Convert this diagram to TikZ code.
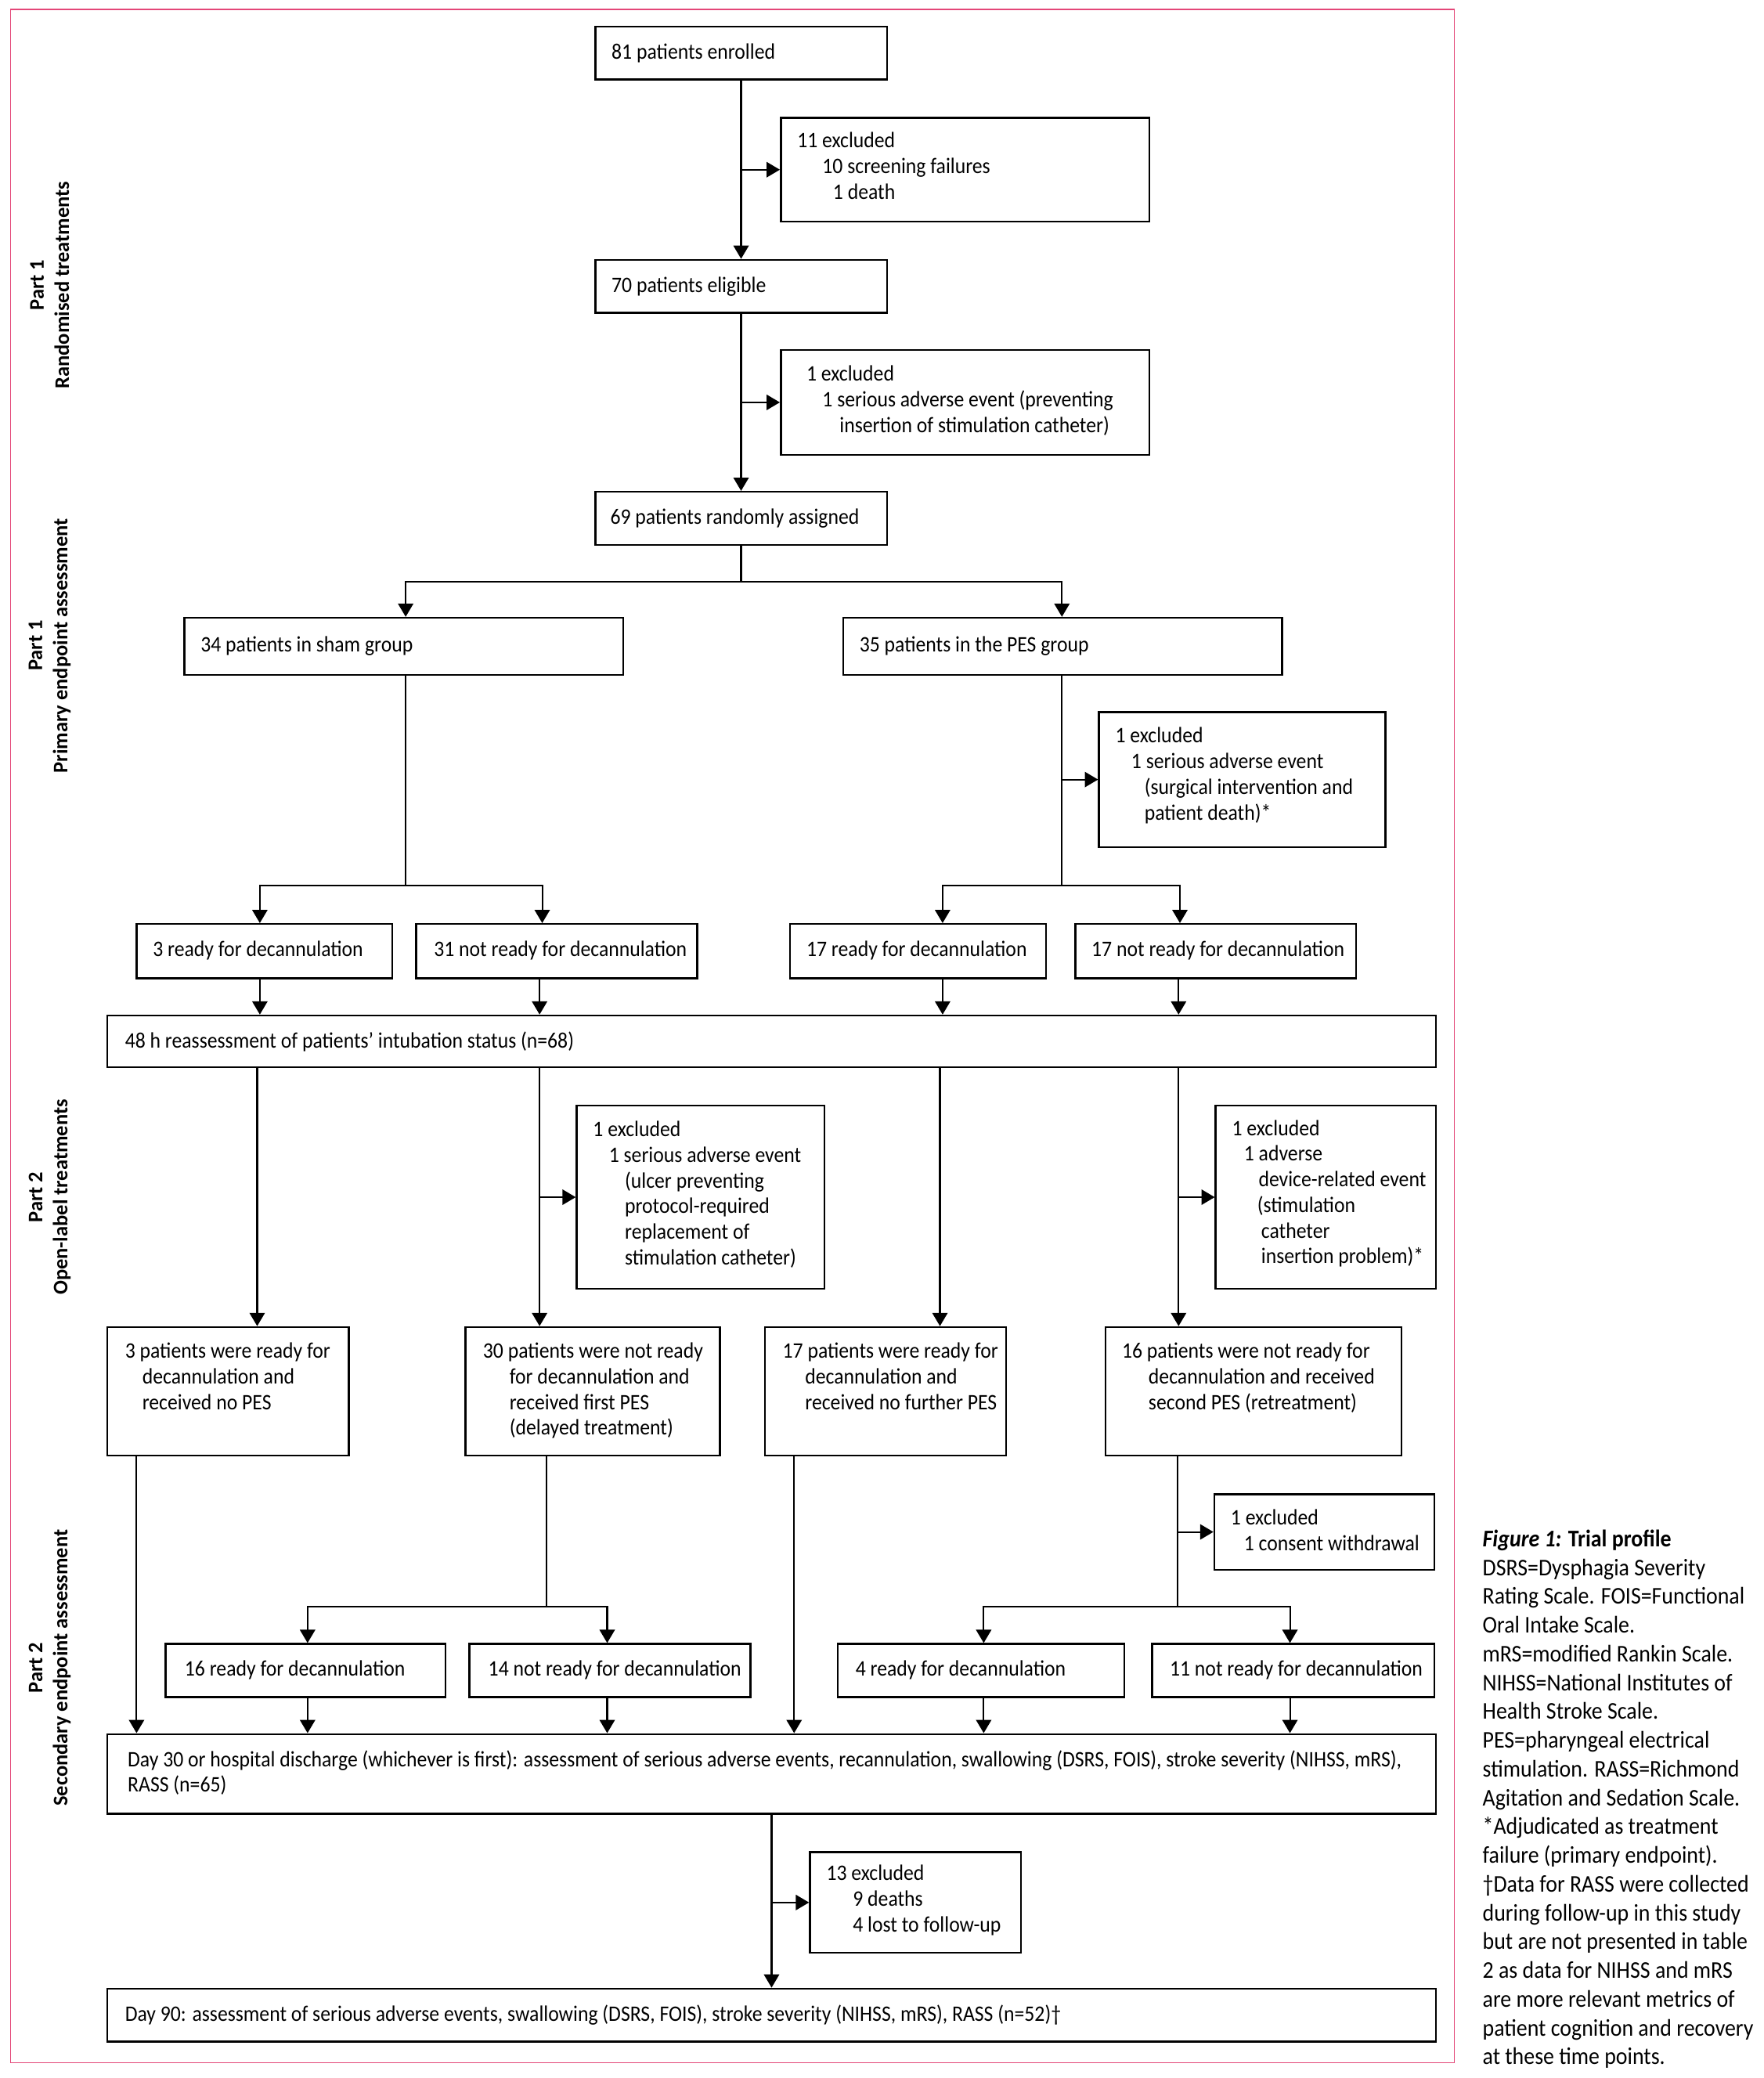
\documentclass[tikz,border=0pt]{standalone}
\usepackage{fontspec}
\setmainfont{Carlito}[FakeStretch=0.91]
\newfontfamily\sidefont{Carlito}
\usetikzlibrary{arrows.meta,fit}
\definecolor{framec}{RGB}{228,70,120}
\newlength\ul \setlength\ul{0.02cm}
\newcommand\ind[1]{\hspace*{#1\ul}}
\newcommand\fl{\rule{0pt}{8pt}}
\newcommand\cfl{\rule{0pt}{9pt}}
\begin{document}
\begin{tikzpicture}[x=0.02cm,y=-0.02cm,
 box/.style={draw, line width=0.85pt, inner sep=0pt},
 txt/.style={anchor=north west, inner sep=0pt, align=left, font=\fontsize{9.5}{11}\selectfont},
 conn/.style={line width=0.7pt},
 arr/.style={conn, -{Triangle[length=0.2cm,width=0.23cm]}},
 side/.style={rotate=90, align=center, inner sep=0pt, font=\sidefont\bfseries\fontsize{8.9}{10.8}\selectfont},
 capt/.style={anchor=north west, inner sep=0pt, align=left, font=\fontsize{10.3}{12.35}\selectfont}]
\useasboundingbox (0,0) rectangle (1330,1567.4);
\draw[framec, line width=0.5pt] (8,7) rectangle (1097,1556);

% side labels
\node[side] (s1) at (37.5,215) {Part 1\\Randomised treatments};
\node[side] (s2) at (37.5,487) {Part 1\\Primary endpoint assessment};
\node[side] (s3) at (37.5,903) {Part 2\\Open-label treatments};
\node[side] (s4) at (37.5,1258) {Part 2\\Secondary endpoint assessment};

% boxes
\node[box, fit={(449,20) (669,60)}] (enr) {};
\node[box, fit={(589,89) (867,167)}] (ex1) {};
\node[box, fit={(449,196) (669,236)}] (elig) {};
\node[box, fit={(589,264) (867,343)}] (ex2) {};
\node[box, fit={(449,371) (669,411)}] (rand) {};
\node[box, fit={(139,466) (470,509)}] (sham) {};
\node[box, fit={(636,466) (967,509)}] (pes) {};
\node[box, fit={(829,537) (1045,639)}] (ex3) {};
\node[box, fit={(103,697) (296,738)}] (r3) {};
\node[box, fit={(314,697) (526,738)}] (nr31) {};
\node[box, fit={(596,697) (789,738)}] (r17) {};
\node[box, fit={(811,697) (1023,738)}] (nr17) {};
\node[box, fit={(81,766) (1083,805)}] (reas) {};
\node[box, fit={(435,834) (622,972)}] (ex4) {};
\node[box, fit={(917,834) (1083,972)}] (ex5) {};
\node[box, fit={(81,1001) (263,1098)}] (p3) {};
\node[box, fit={(351,1001) (543,1098)}] (p30) {};
\node[box, fit={(577,1001) (759,1098)}] (p17) {};
\node[box, fit={(834,1001) (1057,1098)}] (p16) {};
\node[box, fit={(916,1127) (1082,1184)}] (ex6) {};
\node[box, fit={(125,1240) (336,1280)}] (r16) {};
\node[box, fit={(354,1240) (566,1280)}] (nr14) {};
\node[box, fit={(632,1240) (848,1280)}] (r4) {};
\node[box, fit={(869,1240) (1082,1280)}] (nr11) {};
\node[box, fit={(81,1308) (1083,1368)}] (d30) {};
\node[box, fit={(611,1397) (770,1473)}] (ex7) {};
\node[box, fit={(81,1500) (1083,1540)}] (d90) {};

% texts
\node[txt] (enrT) at (461,30) {\fl 81 patients enrolled};
\node[txt] (ex1T) at (601,97) {\fl 11 excluded\\\ind{19}10 screening failures\\\ind{27}1 death};
\node[txt] (eligT) at (461,206) {\fl 70 patients eligible};
\node[txt] (ex2T) at (608,273) {\fl 1 excluded\\\ind{12}1 serious adverse event (preventing\\\ind{25}insertion of stimulation catheter)};
\node[txt] (randT) at (460,381) {\fl 69 patients randomly assigned};
\node[txt] (shamT) at (151,477) {\fl 34 patients in sham group};
\node[txt] (pesT) at (648,477) {\fl 35 patients in the PES group};
\node[txt] (ex3T) at (841,546) {\fl 1 excluded\\\ind{12}1 serious adverse event\\\ind{22}(surgical intervention and\\\ind{22}patient death)*};
\node[txt] (r3T) at (115,707) {\fl 3 ready for decannulation};
\node[txt] (nr31T) at (327,707) {\fl 31 not ready for decannulation};
\node[txt] (r17T) at (608,707) {\fl 17 ready for decannulation};
\node[txt] (nr17T) at (823,707) {\fl 17 not ready for decannulation};
\node[txt] (reasT) at (94,776) {\fl 48 h reassessment of patients’ intubation status (n=68)};
\node[txt] (ex4T) at (447,843) {\fl 1 excluded\\\ind{12}1 serious adverse event\\\ind{24}(ulcer preventing\\\ind{24}protocol-required\\\ind{24}replacement of\\\ind{24}stimulation catheter)};
\node[txt] (ex5T) at (929,842) {\fl 1 excluded\\\ind{9}1 adverse\\\ind{20}device-related event\\\ind{19}(stimulation\\\ind{22}catheter\\\ind{22}insertion problem)*};
\node[txt] (p3T) at (94,1010) {\fl 3 patients were ready for\\\ind{13}decannulation and\\\ind{13}received no PES};
\node[txt] (p30T) at (364,1010) {\fl 30 patients were not ready\\\ind{20}for decannulation and\\\ind{20}received first PES\\\ind{20}(delayed treatment)};
\node[txt] (p17T) at (590,1010) {\fl 17 patients were ready for\\\ind{17}decannulation and\\\ind{17}received no further PES};
\node[txt] (p16T) at (846,1010) {\fl 16 patients were not ready for\\\ind{20}decannulation and received\\\ind{20}second PES (retreatment)};
\node[txt] (ex6T) at (928,1136) {\fl 1 excluded\\\ind{10}1 consent withdrawal};
\node[txt] (r16T) at (139,1250) {\fl 16 ready for decannulation};
\node[txt] (nr14T) at (368,1250) {\fl 14 not ready for decannulation};
\node[txt] (r4T) at (645,1250) {\fl 4 ready for decannulation};
\node[txt] (nr11T) at (882,1250) {\fl 11 not ready for decannulation};
\node[txt] (d30T) at (96,1318) {\fl Day 30 or hospital discharge (whichever is first): assessment of serious adverse events, recannulation, swallowing (DSRS, FOIS), stroke severity (NIHSS, mRS),\\RASS (n=65)};
\node[txt] (ex7T) at (623,1404) {\fl 13 excluded\\\ind{20}9 deaths\\\ind{20}4 lost to follow-up};
\node[txt] (d90T) at (94,1510) {\fl Day 90: assessment of serious adverse events, swallowing (DSRS, FOIS), stroke severity (NIHSS, mRS), RASS (n=52)†};

% caption
\node[capt] (cap) at (1118,1150.5) {\cfl\textbf{\textit{Figure 1:} Trial profile}\\
DSRS=Dysphagia Severity\\
Rating Scale. FOIS=Functional\\
Oral Intake Scale.\\
mRS=modified Rankin Scale.\\
NIHSS=National Institutes of\\
Health Stroke Scale.\\
PES=pharyngeal electrical\\
stimulation. RASS=Richmond\\
Agitation and Sedation Scale.\\
*Adjudicated as treatment\\
failure (primary endpoint).\\
†Data for RASS were collected\\
during follow-up in this study\\
but are not presented in table\\
2 as data for NIHSS and mRS\\
are more relevant metrics of\\
patient cognition and recovery\\
at these time points.};

% connectors
\draw[arr] (enr.south) -- (elig.north);
\draw[arr] (enr.south |- ex1.west) -- (ex1.west);
\draw[arr] (elig.south) -- (rand.north);
\draw[arr] (elig.south |- ex2.west) -- (ex2.west);
\coordinate (b1) at (559,439);
\draw[conn] (rand.south) -- (b1);
\draw[arr] (b1) -| (306,0 |- sham.north);
\draw[arr] (b1) -| (801,0 |- pes.north);
\coordinate (c1) at (306,668);
\draw[conn] (306,0 |- sham.south) -- (c1);
\draw[arr] (c1) -| (196,0 |- r3.north);
\draw[arr] (c1) -| (409,0 |- nr31.north);
\coordinate (c2) at (801,668);
\draw[conn] (801,0 |- pes.south) -- (c2);
\draw[arr] (801,0 |- ex3.west) -- (ex3.west);
\draw[arr] (c2) -| (711,0 |- r17.north);
\draw[arr] (c2) -| (890,0 |- nr17.north);
\draw[arr] (196,0 |- r3.south) -- (196,0 |- reas.north);
\draw[arr] (407,0 |- nr31.south) -- (407,0 |- reas.north);
\draw[arr] (711,0 |- r17.south) -- (711,0 |- reas.north);
\draw[arr] (889,0 |- nr17.south) -- (889,0 |- reas.north);
\draw[arr] (194,0 |- reas.south) -- (194,0 |- p3.north);
\draw[arr] (407,0 |- reas.south) -- (407,0 |- p30.north);
\draw[arr] (709,0 |- reas.south) -- (709,0 |- p17.north);
\draw[arr] (889,0 |- reas.south) -- (889,0 |- p16.north);
\draw[arr] (407,0 |- ex4.west) -- (ex4.west);
\draw[arr] (889,0 |- ex5.west) -- (ex5.west);
\draw[arr] (103,0 |- p3.south) -- (103,0 |- d30.north);
\draw[arr] (599,0 |- p17.south) -- (599,0 |- d30.north);
\coordinate (c3) at (412,1212);
\draw[conn] (412,0 |- p30.south) -- (c3);
\draw[arr] (c3) -| (232,0 |- r16.north);
\draw[arr] (c3) -| (458,0 |- nr14.north);
\coordinate (c4) at (888,1212);
\draw[conn] (888,0 |- p16.south) -- (c4);
\draw[arr] (888,0 |- ex6.west) -- (ex6.west);
\draw[arr] (c4) -| (742,0 |- r4.north);
\draw[arr] (c4) -| (973,0 |- nr11.north);
\draw[arr] (232,0 |- r16.south) -- (232,0 |- d30.north);
\draw[arr] (458,0 |- nr14.south) -- (458,0 |- d30.north);
\draw[arr] (742,0 |- r4.south) -- (742,0 |- d30.north);
\draw[arr] (973,0 |- nr11.south) -- (973,0 |- d30.north);
\draw[arr] (582,0 |- d30.south) -- (582,0 |- d90.north);
\draw[arr] (582,0 |- ex7.west) -- (ex7.west);
\end{tikzpicture}
\end{document}
